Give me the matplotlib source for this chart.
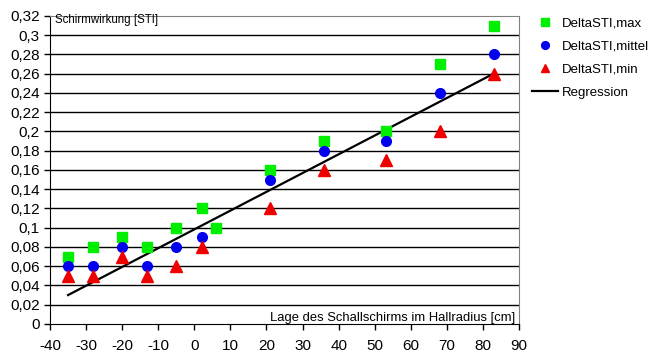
import matplotlib.pyplot as plt
from matplotlib.ticker import FuncFormatter, MultipleLocator
import numpy as np

plt.rcParams['font.family'] = ['Liberation Sans', 'DejaVu Sans']

# data
pos = [-35, -28, -20, -13, -5, 2, 6, 21, 36, 53, 68, 83]
sti_max = [0.07, 0.08, 0.09, 0.08, 0.10, 0.12, 0.10, 0.16, 0.19, 0.20, 0.27, 0.31]
sti_mittel = [0.06, 0.06, 0.08, 0.06, 0.08, 0.09, np.nan, 0.15, 0.18, 0.19, 0.24, 0.28]
sti_min = [0.05, 0.05, 0.07, 0.05, 0.06, 0.08, np.nan, 0.12, 0.16, 0.17, 0.20, 0.26]

# regression line
reg_slope = 0.00195
reg_intercept = 0.0983
reg_range = [-35, 83]


def comma_fmt(v, _):
    return ('%g' % round(v, 4)).replace('.', ',')


fig = plt.figure(figsize=(6.53, 3.56), dpi=100)
ax = fig.add_axes([0.0766, 0.0899, 0.7182, 0.8652])

ax.set_xlim(-40, 90)
ax.set_ylim(0, 0.32)
ax.xaxis.set_major_locator(MultipleLocator(10))
ax.yaxis.set_major_locator(MultipleLocator(0.02))
ax.yaxis.set_major_formatter(FuncFormatter(comma_fmt))
ax.xaxis.set_major_formatter(FuncFormatter(comma_fmt))

for y in np.arange(0.02, 0.32, 0.02):
    ax.axhline(y, color='black', lw=1.0, zorder=1)

for s in ax.spines.values():
    s.set_color('#808080')
ax.spines['left'].set_color('black')
ax.spines['bottom'].set_color('black')
ax.tick_params(direction='out', length=4, width=1, labelsize=11, colors='black')
ax.tick_params(axis='x', pad=7)

xr = np.array(reg_range)
ax.plot(xr, reg_intercept + reg_slope * xr, color='black', lw=1.6, zorder=2,
        label='Regression')
ax.plot(pos, sti_max, 's', color='#00ee00', ms=7, zorder=3, label='DeltaSTI,max')
ax.plot(pos, sti_mittel, 'o', color='#0000ee', ms=7, zorder=4, label='DeltaSTI,mittel')
ax.plot(pos, sti_min, '^', color='#ee0000', ms=8, zorder=5, label='DeltaSTI,min')

ax.text(-38.5, 0.3155, 'Schirmwirkung [STI]', fontsize=8.3, va='center', ha='left')
ax.text(89, 0.0058, 'Lage des Schallschirms im Hallradius [cm]', fontsize=9.4,
        va='center', ha='right')

handles, labels = ax.get_legend_handles_labels()
order = [1, 2, 3, 0]
fig.legend([handles[i] for i in order], [labels[i] for i in order],
           loc='upper left', bbox_to_anchor=(0.796, 0.984), frameon=False,
           fontsize=9.5, handlelength=2.0, labelspacing=0.82, handletextpad=0.3,
           markerscale=0.8)

fig.savefig('out.png', dpi=100)
